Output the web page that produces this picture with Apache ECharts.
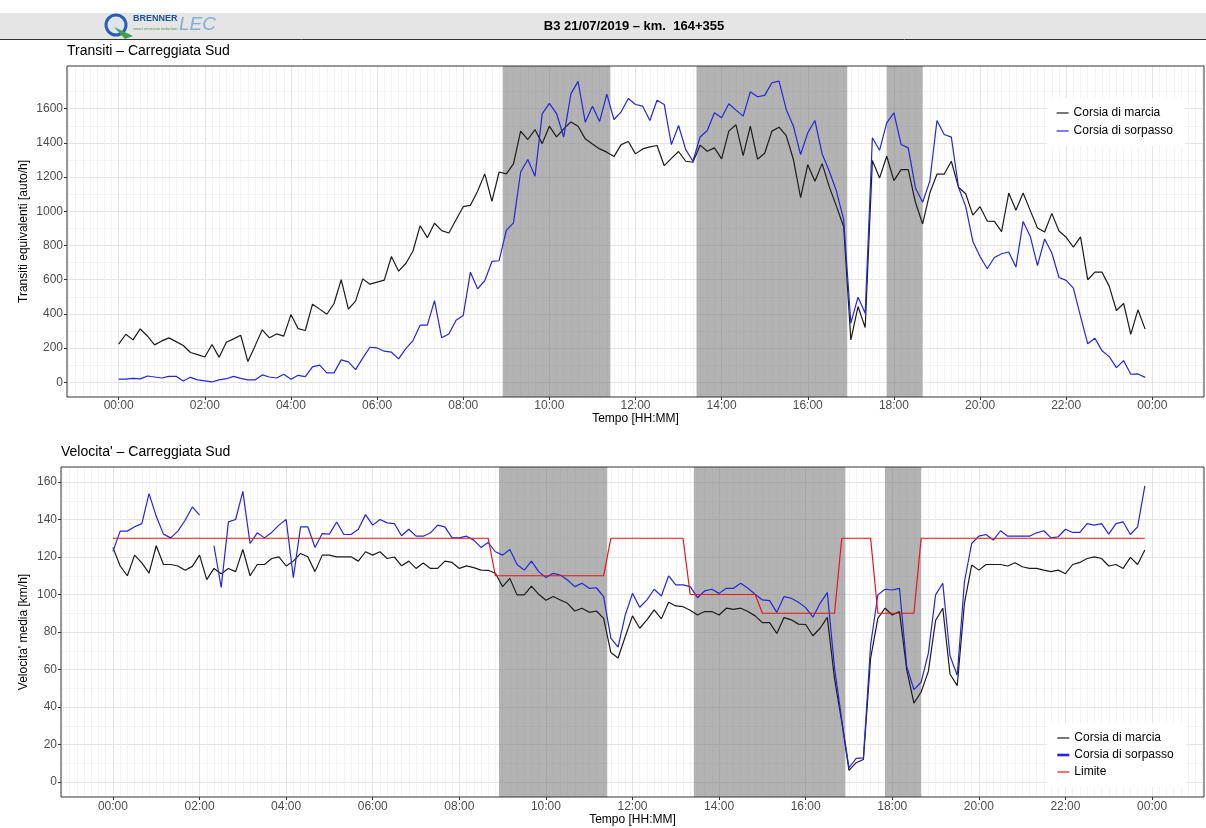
<!DOCTYPE html>
<html>
<head>
<meta charset="utf-8">
<title>B3 21/07/2019 - km. 164+355</title>
<script src="https://cdn.jsdelivr.net/npm/echarts@6/dist/echarts.min.js"></script>
<style>
  html, body { margin: 0; padding: 0; background: #fff; }
  #chart { width: 1206px; height: 828px; }
</style>
</head>
<body>
<div id="chart"></div>
<script>
// valori ogni 10 minuti, da 00:00 a 23:50
const transMarcia = [
  223, 281, 248, 312, 271, 219, 242, 260, 238, 215,
  174, 162, 148, 221, 146, 234, 254, 275, 121, 213,
  307, 260, 283, 270, 396, 314, 303, 457, 428, 398,
  461, 600, 428, 475, 605, 574, 586, 598, 736, 650,
  695, 768, 916, 846, 930, 887, 873, 951, 1027, 1035,
  1117, 1219, 1059, 1230, 1219, 1277, 1469, 1420, 1478, 1396,
  1498, 1435, 1482, 1523, 1498, 1424, 1394, 1365, 1346, 1320,
  1390, 1408, 1336, 1365, 1377, 1385, 1267, 1310, 1350, 1293,
  1287, 1387, 1351, 1371, 1307, 1469, 1506, 1326, 1498, 1305,
  1340, 1469, 1492, 1443, 1303, 1080, 1273, 1176, 1279, 1143,
  1029, 910, 248, 443, 320, 1297, 1195, 1322, 1180, 1244,
  1244, 1053, 926, 1107, 1217, 1217, 1293, 1141, 1103, 978,
  1027, 943, 941, 881, 1107, 1006, 1107, 1004, 902, 879,
  988, 885, 848, 791, 850, 600, 644, 644, 561, 420,
  461, 281, 424, 311
];
const transSorpasso = [
  18, 18, 23, 20, 37, 31, 25, 35, 35, 8,
  29, 14, 8, 2, 14, 21, 35, 23, 14, 14,
  43, 31, 25, 47, 18, 41, 33, 90, 100, 55,
  55, 131, 119, 74, 141, 205, 201, 182, 176, 137,
  197, 244, 334, 334, 478, 260, 283, 363, 391, 644,
  547, 594, 707, 711, 889, 932, 1230, 1303, 1205, 1570,
  1631, 1572, 1435, 1687, 1760, 1521, 1615, 1525, 1685, 1537,
  1582, 1660, 1625, 1615, 1531, 1650, 1625, 1390, 1502, 1361,
  1293, 1435, 1473, 1576, 1547, 1629, 1592, 1557, 1699, 1670,
  1678, 1752, 1762, 1596, 1498, 1332, 1459, 1531, 1336, 1234,
  1117, 951, 346, 498, 404, 1430, 1357, 1517, 1576, 1391,
  1371, 1137, 1053, 1176, 1531, 1449, 1434, 1141, 1029, 824,
  736, 664, 730, 752, 762, 674, 941, 853, 682, 838,
  756, 613, 596, 551, 385, 225, 258, 184, 150, 86,
  127, 47, 49, 29
];
const velMarcia = [
  125, 115.2, 110, 121, 116.9, 111.4, 126, 116, 116, 115.2,
  112.9, 115, 121, 107.9, 113.9, 111.1, 113.9, 112.2, 124, 110,
  116, 116, 119.2, 120.1, 115.2, 117.8, 121.9, 120.1, 112.2, 121,
  121, 120.1, 120.1, 120.1, 117.8, 122.8, 121, 122.8, 119.2, 120,
  115.3, 117.8, 113.9, 116.8, 113.9, 113.9, 117.8, 117.1, 113.9, 115.3,
  114.3, 113, 112.9, 111.3, 104.2, 108.6, 99.8, 99.8, 104.5, 100.1,
  96.9, 98.9, 97.1, 95.3, 91.2, 92.7, 90.5, 91.2, 87.3, 69.1,
  66.1, 77.6, 88.6, 82, 86.5, 91.8, 87, 95.9, 93.9, 93.5,
  91.6, 89.1, 90.9, 90.9, 89.1, 92.7, 92.1, 92.7, 90.9, 88.6,
  85, 85, 79.2, 87.7, 86.5, 84.2, 84, 78, 82, 87.8,
  55, 32, 6.2, 10.3, 12, 66.1, 87.3, 92.7, 89.1, 90.9,
  59.9, 42.1, 48, 59, 86.1, 92.7, 57.6, 51.4, 95.3, 115.7,
  113, 116, 116, 116, 115.2, 116.9, 114.8, 113.9, 113.9, 113,
  112.2, 113, 111.1, 116, 117.1, 119.2, 120.1, 119.2, 115.2, 116,
  113.9, 119.8, 116, 123.7
];
const velSorpasso = [
  123, 133.8, 133.8, 136.1, 137.8, 153.8, 141.7, 132.2, 130.2, 133.8,
  139.6, 146.7, 142.3, null, 126, 103.8, 138.7, 140, 155, 127.2,
  132.9, 130.2, 133.1, 137, 140, 109, 136.1, 136.1, 125.1, 132.5,
  132.2, 138.7, 132, 132, 134.8, 142.6, 137, 140, 138.2, 137.8,
  131.3, 134.8, 131.1, 131.1, 132.9, 137, 136.1, 130.2, 130.2, 131.1,
  129, 125.1, 127.7, 122.8, 121, 124, 116, 113, 117.8, 112.2,
  109.1, 111.3, 110.4, 107.7, 104.2, 106, 103.3, 103.6, 98.9, 76.7,
  71.9, 89.1, 100.6, 93.2, 97.1, 102.8, 99.2, 109.9, 105.1, 105.1,
  104.2, 98.3, 101.9, 102.8, 100.6, 103.3, 103.3, 106, 103.3, 100.1,
  97.1, 96.7, 90.5, 98.9, 98, 95.9, 93, 87.9, 95.3, 101,
  60.8, 33.3, 7.6, 12.6, 12.9, 73.2, 99.8, 102.8, 102.4, 103.3,
  61.7, 49.3, 53.2, 68.7, 99.8, 106, 67.3, 56.9, 106.8, 127.2,
  131.1, 132, 129, 134, 131.1, 131.1, 131.1, 131.1, 132.9, 134,
  130.2, 130.8, 134.8, 133.1, 133.1, 137.8, 137, 137.8, 132.2, 137.8,
  138.7, 132, 136.1, 157.9
];
const limite = [
  130, 130, 130, 130, 130, 130, 130, 130, 130, 130,
  130, 130, 130, 130, 130, 130, 130, 130, 130, 130,
  130, 130, 130, 130, 130, 130, 130, 130, 130, 130,
  130, 130, 130, 130, 130, 130, 130, 130, 130, 130,
  130, 130, 130, 130, 130, 130, 130, 130, 130, 130,
  130, 130, 130, 110, 110, 110, 110, 110, 110, 110,
  110, 110, 110, 110, 110, 110, 110, 110, 110, 130,
  130, 130, 130, 130, 130, 130, 130, 130, 130, 130,
  100, 100, 100, 100, 100, 100, 100, 100, 100, 100,
  90, 90, 90, 90, 90, 90, 90, 90, 90, 90,
  90, 130, 130, 130, 130, 130, 90, 90, 90, 90,
  90, 90, 130, 130, 130, 130, 130, 130, 130, 130,
  130, 130, 130, 130, 130, 130, 130, 130, 130, 130,
  130, 130, 130, 130, 130, 130, 130, 130, 130, 130,
  130, 130, 130, 130
];
// fasce grigie (minuti dalla mezzanotte)
const bande = [[535, 685], [805, 1015], [1070, 1120]];
// tick
const hourTicks = [0, 120, 240, 360, 480, 600, 720, 840, 960, 1080, 1200, 1320, 1440];
const transTicks = [0, 200, 400, 600, 800, 1000, 1200, 1400, 1600];
const transMinor = [100, 300, 500, 700, 900, 1100, 1300, 1500, 1700];
const velTicks = [0, 20, 40, 60, 80, 100, 120, 140, 160];
const velMinor = [10, 30, 50, 70, 90, 110, 130, 150];

const X_MIN = -72, X_MAX = 1512;
const minorX = [];
for (let m = -70; m <= 1510; m += 10) minorX.push(m);

const BLACK = '#1c1c1c', BLUE = '#2626d8', RED = '#e8141c';
const BAND = 'rgba(128,128,128,0.6)';
const FONT = '"Liberation Sans", Arial, Helvetica, sans-serif';

function pad(n) { return (n < 10 ? '0' : '') + n; }
function hhmm(v) {
  const m = ((v % 1440) + 1440) % 1440;
  return pad(Math.floor(m / 60)) + ':' + pad(m % 60);
}
function pairs(arr) { return arr.map((v, i) => [i * 10, v]); }

function minorXAxis(gridIndex) {
  return {
    type: 'value', gridIndex, position: 'bottom', min: X_MIN, max: X_MAX,
    axisLine: { show: false, onZero: false },
    axisLabel: { show: false },
    axisTick: { show: false, customValues: minorX },
    splitLine: { show: true, lineStyle: { color: '#EBEBEB', width: 0.6 } }
  };
}
function majorXAxis(gridIndex, margin, nameGap) {
  return {
    type: 'value', gridIndex, position: 'bottom', min: X_MIN, max: X_MAX,
    name: 'Tempo [HH:MM]', nameLocation: 'middle', nameGap, nameMoveOverlap: false,
    nameTextStyle: { color: '#000', fontSize: 12 },
    axisLine: { show: false, onZero: false },
    axisTick: { show: true, length: 3, customValues: hourTicks, lineStyle: { color: '#333' } },
    axisLabel: { customValues: hourTicks, formatter: hhmm, color: '#4D4D4D', fontSize: 12, margin },
    splitLine: { show: true, lineStyle: { color: '#E4E4E4', width: 1 } }
  };
}
function minorYAxis(gridIndex, min, max, values) {
  return {
    type: 'value', gridIndex, position: 'left', min, max,
    axisLine: { show: false, onZero: false },
    axisLabel: { show: false },
    axisTick: { show: false, customValues: values },
    splitLine: { show: true, lineStyle: { color: '#EBEBEB', width: 0.6 } }
  };
}
function majorYAxis(gridIndex, min, max, values, name, nameGap) {
  return {
    type: 'value', gridIndex, position: 'left', min, max,
    name, nameLocation: 'middle', nameGap, nameMoveOverlap: false,
    nameTextStyle: { color: '#000', fontSize: 12 },
    axisLine: { show: false, onZero: false },
    axisTick: { show: true, length: 3, customValues: values, lineStyle: { color: '#333' } },
    axisLabel: { customValues: values, formatter: v => String(v), color: '#4D4D4D', fontSize: 12, margin: 4 },
    splitLine: { show: true, lineStyle: { color: '#E4E4E4', width: 1 } }
  };
}
function lineSeries(name, data, color, xi, yi, withBands) {
  const s = {
    name, type: 'line', data: pairs(data), xAxisIndex: xi, yAxisIndex: yi,
    symbol: 'none', animation: false,
    lineStyle: { color, width: 1.2 }, itemStyle: { color }
  };
  if (withBands) {
    s.markArea = {
      silent: true,
      itemStyle: { color: BAND },
      data: bande.map(b => [{ xAxis: b[0] }, { xAxis: b[1] }])
    };
  }
  return s;
}

const chart = echarts.init(document.getElementById('chart'));
chart.setOption({
  animation: false,
  textStyle: { fontFamily: FONT },
  grid: [
    { left: 67, top: 66, width: 1137, height: 331, show: true, borderColor: '#333', borderWidth: 1, z: 3, outerBoundsMode: 'none', containLabel: false },
    { left: 61, top: 467, width: 1143, height: 330, show: true, borderColor: '#333', borderWidth: 1, z: 3, outerBoundsMode: 'none', containLabel: false }
  ],
  xAxis: [minorXAxis(0), majorXAxis(0, 3, 16), minorXAxis(1), majorXAxis(1, 4, 17)],
  yAxis: [
    minorYAxis(0, -86, 1850, transMinor),
    majorYAxis(0, -86, 1850, transTicks, 'Transiti equivalenti [auto/h]', 37),
    minorYAxis(1, -8, 168, velMinor),
    majorYAxis(1, -8, 168, velTicks, "Velocita' media [km/h]", 31)
  ],
  legend: [
    {
      data: [
        { name: 'Corsia di marcia', lineStyle: { width: 1.2 } },
        { name: 'Corsia di sorpasso', lineStyle: { width: 1.2 } }
      ],
      orient: 'vertical', left: 1047, top: 98,
      itemWidth: 12, itemHeight: 12, itemGap: 6, padding: [9, 12, 9, 9],
      backgroundColor: '#fff', selectedMode: false,
      itemStyle: { opacity: 0 },
      textStyle: { fontSize: 12, color: '#000' }
    },
    {
      data: [
        { name: 'Corsia di marcia', lineStyle: { width: 1.2 } },
        { name: 'Corsia di sorpasso', lineStyle: { width: 2.6 } },
        { name: 'Limite', lineStyle: { width: 1.2 } }
      ],
      orient: 'vertical', left: 1047, top: 723,
      itemWidth: 12, itemHeight: 12, itemGap: 5, padding: [9, 12, 9, 9],
      backgroundColor: '#fff', selectedMode: false,
      itemStyle: { opacity: 0 },
      textStyle: { fontSize: 12, color: '#000' }
    }
  ],
  graphic: [
    { type: 'rect', silent: true, shape: { x: 0, y: 13, width: 1206, height: 26 }, style: { fill: '#E5E5E5' } },
    { type: 'line', silent: true, shape: { x1: 0, y1: 39.5, x2: 1206, y2: 39.5 }, style: { stroke: '#333', lineWidth: 1 } },
    { type: 'text', x: 634, y: 26, style: { text: 'B3 21/07/2019 \u2013 km.  164+355', font: 'bold 13px ' + FONT, fill: '#000', align: 'center', verticalAlign: 'middle' } },
    // logo
    { type: 'circle', shape: { cx: 116, cy: 25, r: 10 }, style: { fill: '#dde5ee', stroke: '#2b5fae', lineWidth: 3 } },
    { type: 'polygon', shape: { points: [[114, 27], [133, 36], [125, 39]] }, style: { fill: '#3f9f4c' } },
    { type: 'text', x: 133, y: 19, style: { text: 'BRENNER', font: 'bold 9px "Liberation Sans Narrow", ' + FONT, fill: '#1d4f9c', verticalAlign: 'middle' } },
    { type: 'text', x: 133, y: 29, style: { text: 'smart emission reduction', font: '4px ' + FONT, fill: '#4a9a55', verticalAlign: 'middle' } },
    { type: 'text', x: 179, y: 25, style: { text: 'LEC', font: 'italic 19px ' + FONT, fill: '#86acd9', verticalAlign: 'middle' } },
    // titoli dei pannelli
    { type: 'text', x: 67, y: 51, style: { text: 'Transiti \u2013 Carreggiata Sud', font: '14px ' + FONT, fill: '#000', verticalAlign: 'middle' } },
    { type: 'text', x: 61, y: 452, style: { text: "Velocita' \u2013 Carreggiata Sud", font: '14px ' + FONT, fill: '#000', verticalAlign: 'middle' } }
  ],
  series: [
    lineSeries('Corsia di marcia', transMarcia, BLACK, 1, 1, true),
    lineSeries('Corsia di sorpasso', transSorpasso, BLUE, 1, 1, false),
    lineSeries('Corsia di marcia', velMarcia, BLACK, 3, 3, true),
    lineSeries('Corsia di sorpasso', velSorpasso, BLUE, 3, 3, false),
    lineSeries('Limite', limite, RED, 3, 3, false)
  ]
});
</script>
</body>
</html>
